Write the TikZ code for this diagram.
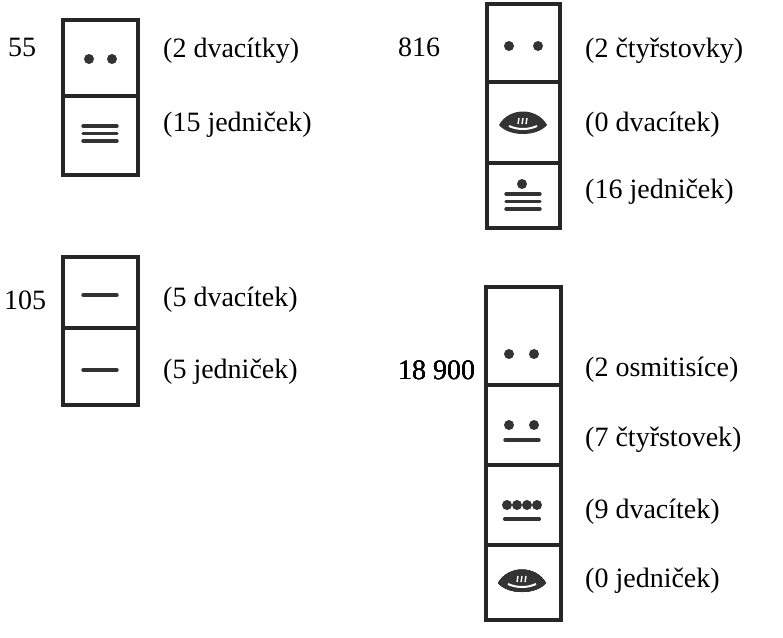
\documentclass[tikz,border=0pt]{standalone}
\usepackage{fontspec}
\setmainfont{Liberation Serif}
\usetikzlibrary{positioning}

\begin{document}
\begin{tikzpicture}[x=1pt,y=-1pt,
  cell/.style={draw=black!85, line width=3.6pt},
  bar/.style={line width=3.4pt, line cap=round, black!80},
  label/.style={font=\fontsize{28}{30}\selectfont, anchor=west, inner sep=0pt}]
% Bounding box
\useasboundingbox (0,0) rectangle (783,637);

% Dot and bar macros
\def\dot#1#2{\fill[black!80] (#1,#2) circle (5);}
\def\bars#1#2#3{\foreach \k in {1,...,#3} \draw[bar] ({#1-17},{#2+(\k-1)*7.5}) -- ({#1+17},{#2+(\k-1)*7.5});}
\def\shell#1#2{%
  \fill[black!80] (#1-24,#2+1) .. controls (#1-14,#2-17) and (#1+14,#2-17) .. (#1+24,#2+1)
    .. controls (#1+14,#2+13) and (#1-14,#2+13) .. cycle;
  \draw[white, line width=2pt] (#1-14,#2+2) .. controls (#1-5,#2+6) and (#1+5,#2+6) .. (#1+14,#2+2);
  \foreach \s in {-4,0,4} \draw[white, line width=1.4pt] (#1+\s,#2-6) -- (#1+\s-1,#2);}

% 55
\draw[cell] (63,20) rectangle (138,175);
\draw[cell] (63,96) -- (138,96);
\dot{89}{59}\dot{112}{59}
\bars{100}{126}{3}
\node[label] (n55) at (8,47) {55};
\node[label] (a55) at (163,51) {(2 dvacítky)};
\node[label] (b55) at (163,125) {(15 jedniček)};

% 105
\draw[cell] (63,257) rectangle (138,405);
\draw[cell] (63,328) -- (138,328);
\bars{100}{295}{1}
\bars{100}{370}{1}
\node[label] (n105) at (4,300) {105};
\node[label] (a105) at (163,300) {(5 dvacítek)};
\node[label] (b105) at (163,372) {(5 jedniček)};

% 816
\draw[cell] (487,4) rectangle (560,228);
\draw[cell] (487,82) -- (560,82);
\draw[cell] (487,163) -- (560,163);
\dot{509}{46}\dot{538}{46}
\shell{523}{124}
\dot{522}{184}
\bars{523}{194}{3}
\node[label] (n816) at (398,47) {816};
\node[label] (a816) at (585,51) {(2 čtyřstovky)};
\node[label] (b816) at (585,125) {(0 dvacítek)};
\node[label] (c816) at (585,192) {(16 jedniček)};

% 18 900
\draw[cell] (486,287) rectangle (561,620);
\draw[cell] (486,385) -- (561,385);
\draw[cell] (486,465) -- (561,465);
\draw[cell] (486,545) -- (561,545);
\dot{509}{354}\dot{534}{354}
\dot{509}{425}\dot{534}{425}
\bars{522}{440}{1}
\foreach \i in {0,1,2,3} \dot{507+\i*10}{505}
\bars{522}{519}{1}
\shell{522}{582}
\node[label] (n189) at (398,370) {18 900};
\node[label] (a189) at (585,370) {(2 osmitisíce)};
\node[label] (b189) at (585,440) {(7 čtyřstovek)};
\node[label] (c189) at (585,512) {(9 dvacítek)};
\node[label] (d189) at (585,581) {(0 jedniček)};
\end{tikzpicture}
\end{document}
